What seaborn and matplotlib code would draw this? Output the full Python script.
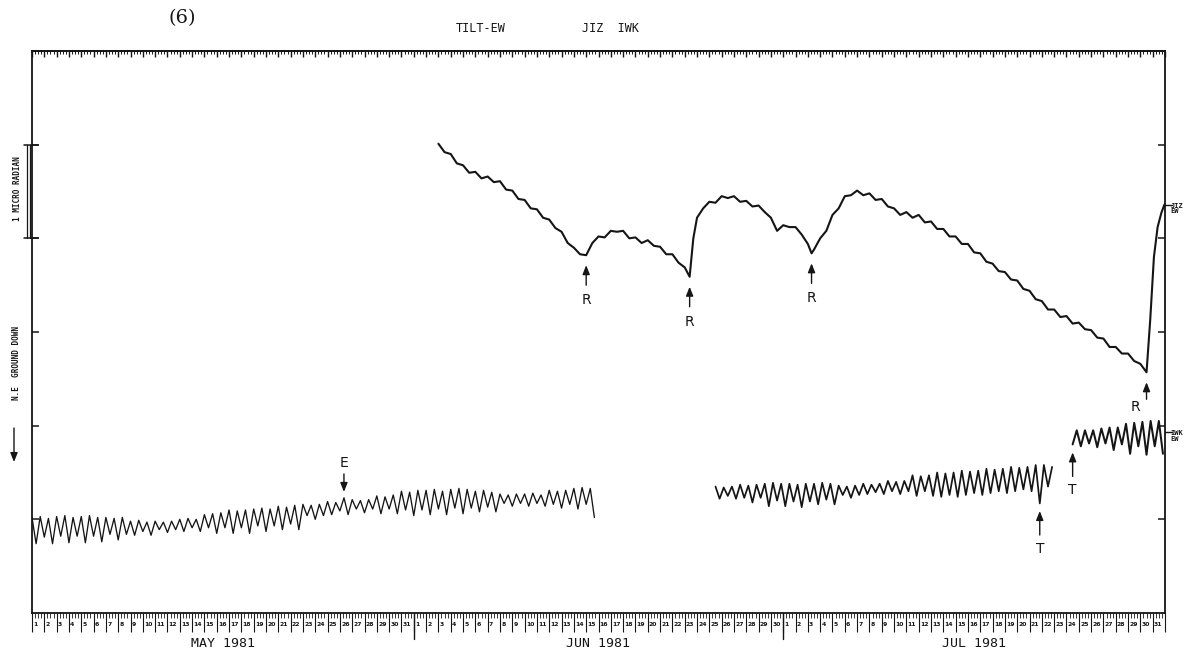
import numpy as np
import pandas as pd
import matplotlib
matplotlib.use("Agg")
import matplotlib.pyplot as plt
import seaborn as sns
from matplotlib.transforms import blended_transform_factory
from matplotlib.ticker import FixedLocator, MultipleLocator, NullFormatter
from matplotlib.lines import Line2D

# ---------------- data (tilt in micro-radian, time in days since 1 May 1981) ----------------
SAMPLE_STEP = 1.0 / 3.0   # days between read-off IWK samples

iwk_may_start = 0.0
iwk_may = [
    1.02, 0.74, 1.03, 0.81, 1.01, 0.74,   1.03, 0.82, 1.04, 0.75, 1.02, 0.82,
    1.03, 0.75, 1.04, 0.82, 1.02, 0.76,   1.02, 0.84, 1.01, 0.78, 1.02, 0.84,
    0.98, 0.83, 0.99, 0.87, 0.97, 0.83,   0.98, 0.89, 0.97, 0.86, 0.98, 0.89,
    1.00, 0.87, 1.01, 0.91, 1.00, 0.87,   1.05, 0.91, 1.06, 0.85, 1.07, 0.91,
    1.10, 0.85, 1.09, 0.91, 1.10, 0.85,   1.11, 0.93, 1.12, 0.87, 1.11, 0.93,
    1.14, 0.89, 1.13, 0.95, 1.15, 0.89,   1.16, 1.04, 1.15, 1.00, 1.16, 1.04,
    1.19, 1.05, 1.18, 1.09, 1.23, 1.05,   1.21, 1.11, 1.20, 1.07, 1.21, 1.11,
    1.25, 1.06, 1.24, 1.11, 1.26, 1.06,   1.30, 1.10, 1.29, 1.04, 1.31, 1.10,
    1.31, 1.05, 1.32, 1.11, 1.30, 1.05,   1.32, 1.12, 1.33, 1.06, 1.32, 1.12,
    1.30, 1.08, 1.31, 1.13, 1.29, 1.08,   1.27, 1.17, 1.26, 1.14, 1.27, 1.17,
    1.27, 1.14, 1.28, 1.17, 1.26, 1.14,   1.31, 1.16, 1.30, 1.12, 1.31, 1.16,
    1.33, 1.11, 1.34, 1.16, 1.33, 1.02,
]

iwk_jul_start = 55.5
iwk_jul = [
    1.35, 1.22, 1.34, 1.25, 1.35, 1.22,   1.37, 1.23, 1.36, 1.18, 1.37, 1.23,
    1.38, 1.14, 1.39, 1.20, 1.38, 1.14,   1.38, 1.19, 1.37, 1.13, 1.38, 1.19,
    1.38, 1.16, 1.39, 1.21, 1.38, 1.16,   1.36, 1.26, 1.35, 1.23, 1.36, 1.26,
    1.38, 1.27, 1.37, 1.29, 1.38, 1.27,   1.41, 1.30, 1.40, 1.27, 1.41, 1.30,
    1.47, 1.25, 1.46, 1.30, 1.47, 1.25,   1.50, 1.24, 1.49, 1.26, 1.50, 1.24,
    1.52, 1.26, 1.51, 1.28, 1.52, 1.26,   1.54, 1.28, 1.53, 1.30, 1.54, 1.28,
    1.56, 1.30, 1.55, 1.32, 1.56, 1.30,   1.58, 1.17, 1.58, 1.35, 1.56,
]

iwk_late_start = 84.5
iwk_late = [
    1.80, 1.95, 1.78, 1.95, 1.81, 1.95,   1.77, 1.97, 1.81, 1.98, 1.74, 1.98,
    1.80, 2.02, 1.70, 2.03, 1.78, 2.04,   1.69, 2.05, 1.78, 2.05, 1.70,
]

jiz_day = [
    33.0, 33.5, 34.0, 34.5, 35.0, 35.5, 36.0, 36.5, 37.0, 37.5, 38.0, 38.5, 39.0, 39.5, 40.0, 40.5,
    41.0, 41.5, 42.0, 42.5, 43.0, 43.5, 44.0, 44.5, 45.0, 45.5, 46.0, 46.5, 47.0, 47.5, 48.0, 48.5,
    49.0, 49.5, 50.0, 50.5, 51.0, 51.5, 52.0, 52.5, 53.0, 53.4, 53.7, 54.0, 54.5, 55.0, 55.5, 56.0,
    56.5, 57.0, 57.5, 58.0, 58.5, 59.0, 59.5, 60.0, 60.5, 61.0, 61.5, 62.0, 62.5, 63.0, 63.3, 63.5,
    64.0, 64.5, 65.0, 65.5, 66.0, 66.5, 67.0, 67.5, 68.0, 68.5, 69.0, 69.5, 70.0, 70.5, 71.0, 71.5,
    72.0, 72.5, 73.0, 73.5, 74.0, 74.5, 75.0, 75.5, 76.0, 76.5, 77.0, 77.5, 78.0, 78.5, 79.0, 79.5,
    80.0, 80.5, 81.0, 81.5, 82.0, 82.5, 83.0, 83.5, 84.0, 84.5, 85.0, 85.5, 86.0, 86.5, 87.0, 87.5,
    88.0, 88.5, 89.0, 89.5, 90.0, 90.5, 90.8, 91.1, 91.4, 91.7, 91.95,
]
jiz_tilt = [
    5.01, 4.92, 4.90, 4.80, 4.78, 4.70, 4.71, 4.64, 4.66, 4.60, 4.61, 4.52, 4.51, 4.42, 4.41, 4.32,
    4.31, 4.22, 4.20, 4.11, 4.07, 3.95, 3.90, 3.83, 3.82, 3.95, 4.02, 4.01, 4.08, 4.07, 4.08, 4.00,
    4.01, 3.95, 3.98, 3.92, 3.91, 3.83, 3.83, 3.74, 3.69, 3.59, 4.00, 4.22, 4.32, 4.39, 4.38, 4.45,
    4.43, 4.45, 4.39, 4.40, 4.34, 4.35, 4.28, 4.22, 4.08, 4.14, 4.12, 4.12, 4.04, 3.94, 3.84, 3.88,
    4.00, 4.08, 4.25, 4.32, 4.45, 4.46, 4.51, 4.46, 4.48, 4.41, 4.42, 4.34, 4.32, 4.25, 4.28, 4.22,
    4.25, 4.17, 4.18, 4.10, 4.10, 4.02, 4.02, 3.94, 3.94, 3.85, 3.84, 3.75, 3.73, 3.65, 3.64, 3.56,
    3.55, 3.46, 3.44, 3.35, 3.33, 3.24, 3.24, 3.16, 3.17, 3.09, 3.10, 3.03, 3.02, 2.94, 2.93, 2.84,
    2.84, 2.77, 2.77, 2.69, 2.66, 2.57, 3.13, 3.80, 4.12, 4.27, 4.36,
]

months = ["MAY 1981", "JUN 1981", "JUL 1981"]
month_days = [31, 30, 31]
y_ticks = [1, 2, 3, 4, 5]

r_events = [45.0, 53.4, 63.3, 90.5]   # R marks on JIZ
e_event = 25.33                       # E mark on IWK
t_events = [81.83, 84.5]              # T marks on IWK

# ---------------- figure ----------------
sns.set_theme(style="white")
plt.rcParams['font.family'] = ['DejaVu Sans']
W, H = 1199, 664
ink = '#151515'
fig = plt.figure(figsize=(W / 100, H / 100), dpi=100)
fig.patch.set_facecolor('white')
ax = fig.add_axes([32 / W, 1 - 613 / H, 1133 / W, 562 / H])
ax.set_facecolor('white')


def seg(start, vals):
    return pd.DataFrame({'day': start + SAMPLE_STEP * np.arange(len(vals)), 'tilt': vals})


s1 = seg(iwk_may_start, iwk_may)
s2 = seg(iwk_jul_start, iwk_jul)
s3 = seg(iwk_late_start, iwk_late)
sj = pd.DataFrame({'day': jiz_day, 'tilt': jiz_tilt})

sns.lineplot(data=s1, x='day', y='tilt', ax=ax, color=ink, lw=0.95, estimator=None, sort=False)
sns.lineplot(data=s2, x='day', y='tilt', ax=ax, color=ink, lw=1.25, estimator=None, sort=False)
sns.lineplot(data=s3, x='day', y='tilt', ax=ax, color=ink, lw=1.45, estimator=None, sort=False)
sns.lineplot(data=sj, x='day', y='tilt', ax=ax, color=ink, lw=1.5, estimator=None, sort=False)

total = sum(month_days)
ax.set_xlim(0, total)
ax.set_ylim(0, 6)
ax.set_xlabel('')
ax.set_ylabel('')
for s in ax.spines.values():
    s.set_linewidth(1.3)
    s.set_color(ink)
    s.set_visible(True)

# y ticks (both sides, inward)
ax.set_yticks(y_ticks)
ax.set_yticklabels([])
ax.tick_params(axis='y', which='major', direction='in', length=5, width=1.1,
               left=True, right=True, colors=ink)

# bottom day boxes
days = np.arange(0, total + 1)
ax.xaxis.set_major_locator(FixedLocator(days))
ax.xaxis.set_minor_locator(MultipleLocator(0.25))
ax.xaxis.set_major_formatter(NullFormatter())
ax.tick_params(axis='x', which='major', direction='out', length=14, width=0.8,
               bottom=True, top=False, colors=ink)
ax.tick_params(axis='x', which='minor', direction='out', length=3.5, width=0.6,
               bottom=True, top=False, colors=ink)

# top ticks
top = ax.secondary_xaxis('top')
top.xaxis.set_major_locator(FixedLocator(days))
top.xaxis.set_minor_locator(MultipleLocator(0.25))
top.xaxis.set_major_formatter(NullFormatter())
top.tick_params(which='major', direction='in', length=4.5, width=1.0, colors=ink)
top.tick_params(which='minor', direction='in', length=2.2, width=0.7, colors=ink)
top.spines['top'].set_linewidth(1.3)

trans = blended_transform_factory(ax.transData, ax.transAxes)
start = 0
for name, n in zip(months, month_days):
    for k in range(n):
        ax.text(start + k + 0.1, -0.021, str(k + 1), transform=trans, fontsize=4.4,
                fontweight='bold', ha='left', va='center', color=ink)
    ax.text(start + n / 2, -0.055, name, transform=trans, fontsize=9.5,
            family='DejaVu Sans Mono', ha='center', va='center', color=ink)
    if start > 0:
        ax.plot([start, start], [0, -0.046], transform=trans, color=ink, lw=1.0, clip_on=False)
    start += n

# ---------------- annotations ----------------
jiz_d = np.array(jiz_day)
jiz_v = np.array(jiz_tilt)
arrow_kw = dict(arrowstyle='-|>,head_length=0.45,head_width=0.18', color=ink, lw=1.0,
                shrinkA=0, shrinkB=0)


def up_mark(d, v, label, gap, tail, lab_off, dx=0):
    p = ax.transData.transform((d, v))
    ax.annotate('', xy=(p[0], p[1] - gap), xycoords='figure pixels',
                xytext=(p[0], p[1] - tail), textcoords='figure pixels', arrowprops=arrow_kw)
    ax.annotate(label, xy=(p[0] + dx, p[1] - lab_off), xycoords='figure pixels', fontsize=10,
                ha='center', va='center', color=ink)


for i, d in enumerate(r_events):
    last = i == len(r_events) - 1
    # the last R sits just above the IWK trace, so its label is tucked in to the left
    up_mark(d, np.interp(d, jiz_d, jiz_v), 'R', 10, 27 if last else 30,
            35 if last else 45, dx=-11 if last else 0)

ev = np.interp(e_event, s1['day'], s1['tilt'])
pe = ax.transData.transform((e_event, ev))
ax.annotate('', xy=(pe[0], pe[1] + 6), xycoords='figure pixels',
            xytext=(pe[0], pe[1] + 24), textcoords='figure pixels', arrowprops=arrow_kw)
ax.annotate('E', xy=(pe[0], pe[1] + 35), xycoords='figure pixels', fontsize=10,
            ha='center', va='center', color=ink)

for d, sdf in zip(t_events, [s2, s3]):
    up_mark(d, np.interp(d, sdf['day'], sdf['tilt']), 'T', 8, 32, 46)

# ---------------- outside texts ----------------
def px(x, y):
    return x / W, 1 - y / H

fig.text(*px(182, 18), '(6)', fontsize=14, family='DejaVu Serif', ha='center', va='center', color=ink)
fig.text(*px(481, 28), 'TILT-EW', fontsize=8.5, family='DejaVu Sans Mono', ha='center', va='center', color=ink)
fig.text(*px(610, 28), 'JIZ  IWK', fontsize=8.5, family='DejaVu Sans Mono', ha='center', va='center', color=ink)

fig.text(*px(17, 189), '1 MICRO RADIAN', fontsize=5.5, family='DejaVu Sans Mono', rotation=90,
         ha='center', va='center', color=ink, fontweight='bold')
fig.text(*px(17, 363), 'N.E  GROUND DOWN', fontsize=5.5, family='DejaVu Sans Mono', rotation=90,
         ha='center', va='center', color=ink, fontweight='bold')
ax.annotate('', xy=(14, H - 462), xycoords='figure pixels', xytext=(14, H - 428),
            textcoords='figure pixels', arrowprops=arrow_kw)

# scale bracket 1 micro radian
for xx in (27, 30):
    fig.add_artist(Line2D([xx / W, xx / W], [1 - 145 / H, 1 - 238 / H], color=ink, lw=0.9))
for yy in (145, 238):
    fig.add_artist(Line2D([24 / W, 38 / W], [1 - yy / H, 1 - yy / H], color=ink, lw=1.1))

# right-side station labels
for lab, yv in (('JIZ\nEW', np.interp(total, jiz_d, jiz_v)), ('IWK\nEW', 1.93)):
    ax.plot([total, total + 0.6], [yv, yv], color=ink, lw=1.0, clip_on=False)
    ax.text(total + 0.45, yv - 0.04, lab, fontsize=5, family='DejaVu Sans Mono',
            ha='left', va='center', color=ink, linespacing=0.9, fontweight='bold')

fig.savefig('out.png', dpi=100, facecolor='white')
